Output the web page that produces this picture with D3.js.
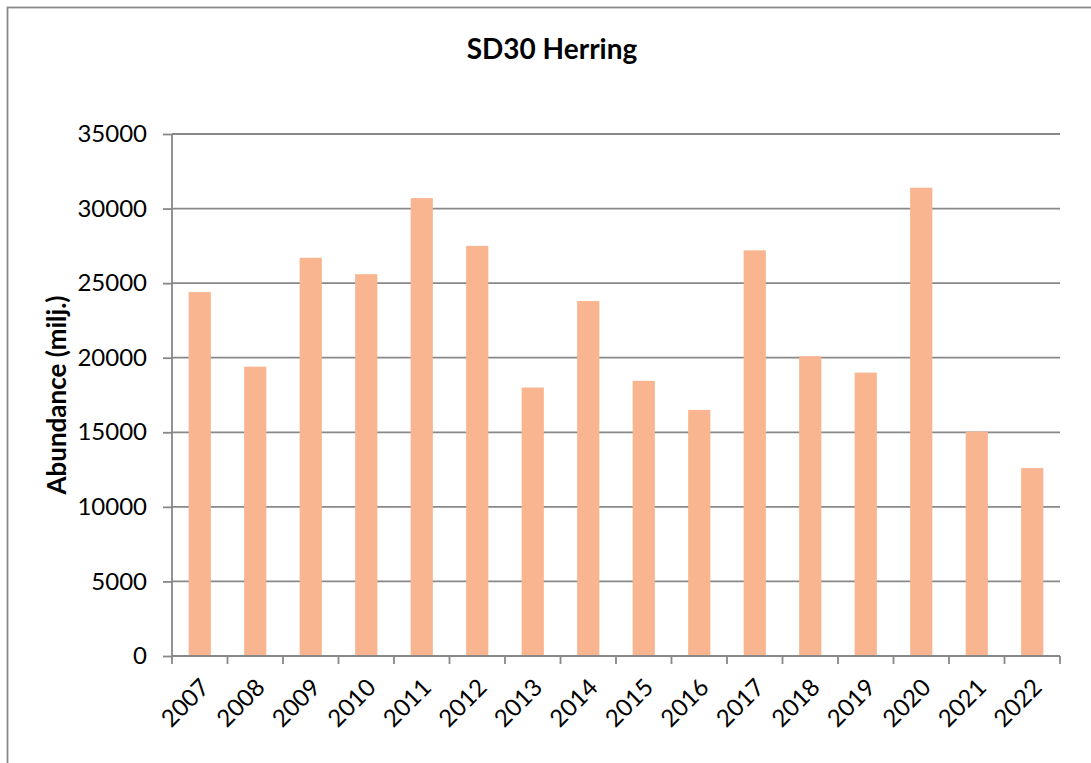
<!DOCTYPE html>
<html lang="en">
<head>
  <meta charset="UTF-8">
  <title>SD30 Herring</title>
  <script src="https://d3js.org/d3.v7.min.js"></script>
  <style>
    body {
      margin: 0;
      background: #fff;
      font-family: Lato, "Open Sans", Arial, sans-serif;
    }
  </style>
</head>
<body>
<script>
const width = 1091;
const height = 763;

const years = ["2007", "2008", "2009", "2010", "2011", "2012", "2013", "2014",
  "2015", "2016", "2017", "2018", "2019", "2020", "2021", "2022"];
const abundance = [24400, 19400, 26700, 25600, 30700, 27500, 18000, 23800,
  18450, 16500, 27200, 20100, 19000, 31400, 15050, 12600];
const yTicks = [0, 5000, 10000, 15000, 20000, 25000, 30000, 35000];

const margin = {top: 134, right: 31, bottom: 107, left: 172};

const svg = d3.select("body").append("svg")
  .attr("viewBox", [0, 0, width, height])
  .attr("width", width)
  .attr("height", height);

// chart border (runs off the right and bottom like the original)
svg.append("rect")
  .attr("x", 7.5)
  .attr("y", 7.5)
  .attr("width", width + 20)
  .attr("height", height + 20)
  .attr("fill", "none")
  .attr("stroke", "#8a8a8a")
  .attr("stroke-width", 1.8);

const x = d3.scaleBand()
  .domain(years)
  .range([margin.left, width - margin.right])
  .paddingInner(0.6)
  .paddingOuter(0.3);

const y = d3.scaleLinear()
  .domain([0, 35000])
  .range([height - margin.bottom, margin.top]);

// gridlines
svg.append("g")
  .selectAll("line")
  .data(yTicks.filter(d => d > 0))
  .join("line")
  .attr("x1", margin.left)
  .attr("x2", width - margin.right)
  .attr("y1", d => y(d))
  .attr("y2", d => y(d))
  .attr("stroke", "#888")
  .attr("stroke-width", 1.8);

// bars
svg.append("g")
  .selectAll("rect")
  .data(years)
  .join("rect")
  .attr("x", d => x(d))
  .attr("y", (d, i) => y(abundance[i]))
  .attr("width", x.bandwidth())
  .attr("height", (d, i) => y(0) - y(abundance[i]))
  .attr("fill", "#f8b590");

// y axis
const yAxis = svg.append("g")
  .attr("transform", `translate(${margin.left},0)`)
  .call(d3.axisLeft(y).tickValues(yTicks).tickSize(9).tickPadding(16).tickFormat(d3.format("d")));
yAxis.selectAll("line, path").attr("stroke", "#888").attr("stroke-width", 1.8);
yAxis.select(".domain").attr("d", `M-0,${y(0)}V${y(35000)}`);
yAxis.selectAll("text")
  .attr("font-family", "Lato, sans-serif")
  .attr("font-size", 24)
  .attr("fill", "#000");

// x axis: ticks sit on the band edges, like Excel
const step = x.step();
const edges = d3.range(years.length + 1).map(i => margin.left + i * step);
const xAxis = svg.append("g");
xAxis.append("line")
  .attr("x1", margin.left)
  .attr("x2", width - margin.right)
  .attr("y1", y(0))
  .attr("y2", y(0))
  .attr("stroke", "#888")
  .attr("stroke-width", 1.8);
xAxis.selectAll(".tick")
  .data(edges)
  .join("line")
  .attr("class", "tick")
  .attr("x1", d => d)
  .attr("x2", d => d)
  .attr("y1", y(0))
  .attr("y2", y(0) + 8)
  .attr("stroke", "#888")
  .attr("stroke-width", 1.8);
xAxis.selectAll("text")
  .data(years)
  .join("text")
  .attr("transform", d => `translate(${x(d) + x.bandwidth() / 2 + 11},${y(0) + 33}) rotate(-45)`)
  .attr("text-anchor", "end")
  .attr("font-family", "Lato, sans-serif")
  .attr("font-size", 24)
  .attr("fill", "#000")
  .text(d => d);

// title
svg.append("text")
  .attr("x", 552)
  .attr("y", 59)
  .attr("text-anchor", "middle")
  .attr("font-family", "Lato, sans-serif")
  .attr("font-weight", "bold")
  .attr("font-size", 28)
  .text("SD30 Herring");

// y label
svg.append("text")
  .attr("transform", `translate(66,395) rotate(-90)`)
  .attr("text-anchor", "middle")
  .attr("font-family", "Lato, sans-serif")
  .attr("font-weight", "bold")
  .attr("font-size", 26)
  .text("Abundance (milj.)");
</script>
</body>
</html>
